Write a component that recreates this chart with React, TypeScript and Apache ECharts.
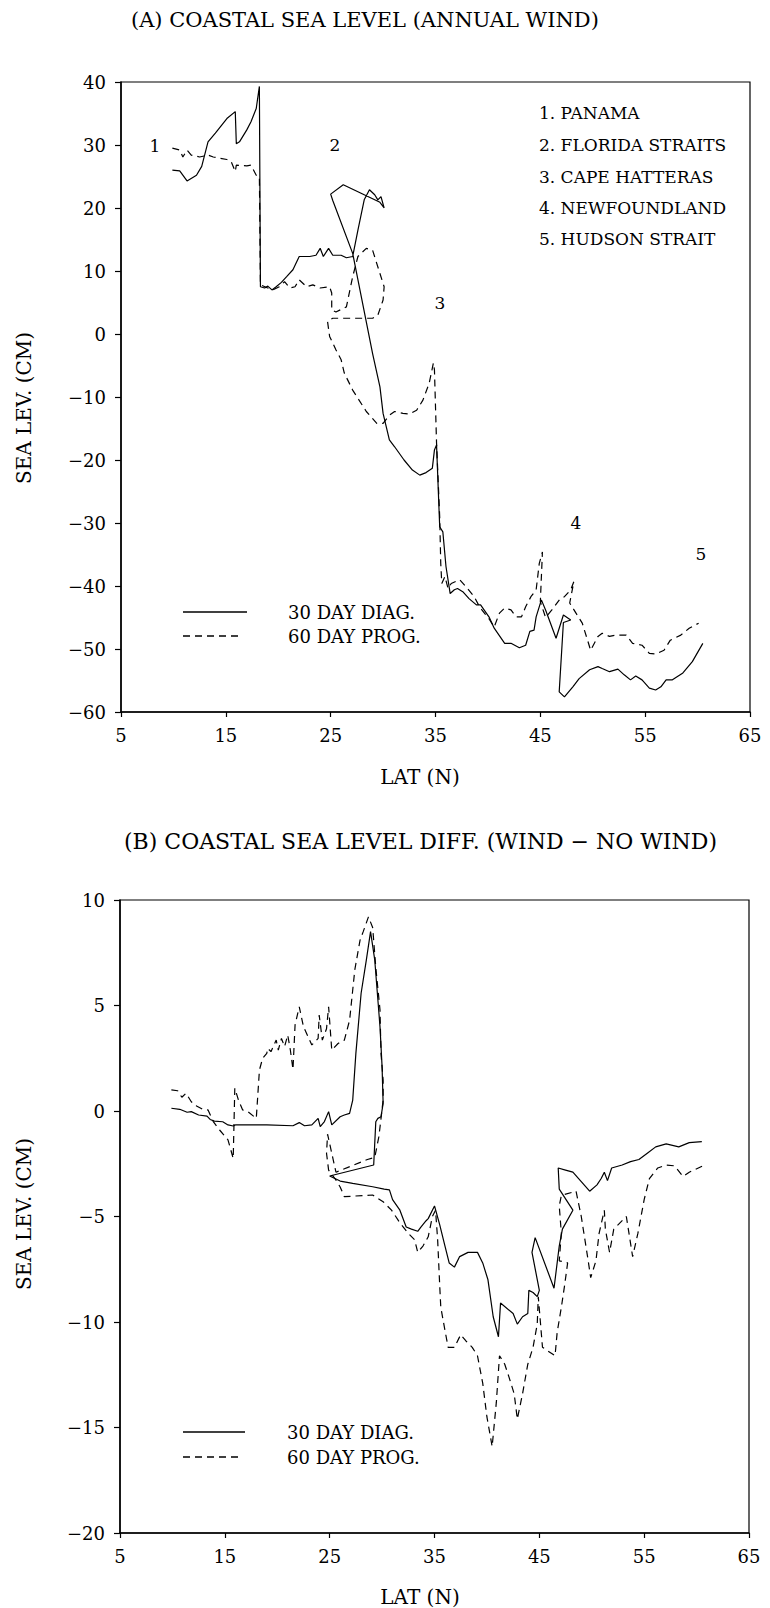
import React, { useEffect, useRef } from "react";
import * as echarts from "echarts";

// ---------- data ----------
const latTicks = [5, 15, 25, 35, 45, 55, 65];

// (A) 30 day diagnostic
const aDiagLat = [9.9, 10.6, 11.3, 12.2, 12.7, 13.3, 14.0, 15.1, 15.9, 16.0, 16.3, 17.0, 17.4, 17.9, 18.2, 18.3, 18.7, 19.0, 19.4, 19.8, 20.3, 20.8, 21.4, 22.0, 23.0, 23.6, 24.0, 24.3, 24.8, 25.2, 26.0, 26.5, 27.1, 27.6, 28.2, 28.7, 29.2, 29.5, 29.8, 30.1, 29.7, 26.2, 25.0, 25.2, 27.1, 29.0, 29.7, 30.0, 30.6, 31.1, 32.0, 32.8, 33.5, 34.1, 34.7, 34.9, 35.1, 35.4, 35.7, 36.0, 36.4, 36.8, 37.1, 37.6, 38.2, 38.9, 39.3, 40.1, 40.6, 41.6, 42.2, 43.0, 43.6, 44.0, 44.4, 44.6, 45.1, 45.5, 46.5, 47.2, 47.9, 47.2, 46.8, 47.3, 48.1, 48.7, 49.7, 50.5, 50.9, 51.6, 52.4, 53.0, 53.6, 54.1, 54.7, 55.4, 56.0, 56.5, 57.0, 57.6, 58.6, 59.5, 60.5];
const aDiagLev = [26.0, 25.9, 24.3, 25.2, 26.6, 30.5, 31.9, 34.2, 35.3, 30.2, 30.5, 32.4, 33.7, 35.8, 39.3, 7.5, 7.3, 7.6, 7.0, 7.5, 8.2, 9.1, 10.2, 12.3, 12.3, 12.5, 13.6, 12.3, 13.6, 12.5, 12.5, 12.1, 12.3, 16.5, 21.3, 22.9, 22.1, 21.3, 21.8, 20.0, 20.9, 23.7, 22.2, 21.2, 12.8, -3.1, -8.4, -12.6, -16.8, -17.9, -20.0, -21.6, -22.4, -22.0, -21.3, -18.4, -17.6, -30.6, -31.4, -36.9, -41.2, -40.6, -40.4, -40.9, -42.0, -43.0, -43.0, -44.9, -46.7, -49.1, -49.1, -49.8, -49.4, -47.2, -47.0, -44.9, -42.2, -43.8, -48.3, -44.6, -45.4, -45.8, -56.8, -57.6, -56.0, -54.7, -53.3, -52.8, -53.1, -53.6, -53.2, -54.1, -54.9, -54.3, -54.9, -56.2, -56.5, -56.0, -54.9, -54.9, -53.8, -52.0, -49.1];

// (A) 60 day prognostic
const aProgLat = [9.9, 10.6, 10.9, 11.3, 11.7, 12.5, 13.3, 13.8, 14.4, 15.1, 15.5, 15.9, 16.0, 17.0, 17.4, 17.9, 18.2, 18.3, 19.0, 19.5, 20.1, 20.6, 21.1, 21.6, 22.0, 22.7, 23.3, 24.0, 24.9, 25.1, 25.1, 25.5, 26.5, 27.1, 27.6, 28.4, 29.0, 29.7, 30.1, 30.0, 29.5, 29.0, 25.2, 24.7, 24.9, 25.5, 26.0, 26.3, 27.1, 28.4, 29.4, 30.0, 30.6, 31.1, 31.9, 32.5, 33.2, 33.8, 34.4, 34.8, 34.9, 35.1, 35.4, 35.5, 35.6, 35.9, 36.2, 36.5, 37.3, 37.9, 38.7, 39.2, 40.1, 40.6, 41.1, 41.6, 42.2, 42.7, 43.2, 43.6, 44.1, 44.6, 44.9, 45.2, 45.0, 45.5, 46.1, 46.9, 47.3, 47.9, 48.2, 47.8, 48.4, 49.0, 49.8, 50.5, 50.9, 51.6, 52.2, 53.2, 53.8, 54.7, 55.4, 56.0, 56.8, 57.4, 58.4, 59.2, 60.1];
const aProgLev = [29.5, 29.2, 28.1, 29.2, 28.4, 28.1, 28.4, 28.1, 27.9, 27.7, 27.4, 25.8, 26.8, 26.7, 26.8, 25.2, 25.0, 7.8, 7.3, 7.0, 7.5, 8.3, 7.3, 7.5, 8.6, 7.5, 7.8, 7.3, 7.5, 6.5, 3.8, 3.5, 4.3, 9.1, 12.3, 13.6, 13.3, 9.6, 7.5, 5.4, 3.0, 2.5, 2.5, 2.0, -0.4, -2.5, -4.1, -6.2, -8.9, -12.3, -14.2, -14.2, -12.9, -12.3, -12.6, -12.7, -12.1, -10.5, -7.8, -4.6, -5.7, -17.3, -29.0, -36.4, -39.6, -38.5, -40.4, -39.6, -39.0, -40.1, -41.7, -43.3, -45.2, -46.5, -44.3, -43.5, -43.8, -44.9, -44.9, -43.3, -41.7, -40.6, -36.4, -34.6, -42.5, -45.0, -43.8, -42.0, -41.7, -40.6, -39.3, -42.7, -44.3, -45.9, -50.2, -48.0, -47.5, -48.0, -47.8, -47.8, -49.1, -49.4, -50.7, -50.8, -50.2, -48.6, -47.8, -46.7, -45.9];

// (B) 30 day diagnostic, difference wind - no wind
const bDiagLat = [9.9, 10.7, 11.4, 11.8, 12.5, 13.3, 13.6, 14.0, 14.8, 15.3, 15.8, 16.0, 19.0, 21.5, 22.1, 22.6, 23.3, 23.9, 24.1, 24.5, 24.9, 25.2, 26.0, 26.4, 26.9, 27.2, 27.5, 28.0, 28.5, 28.9, 29.3, 29.8, 30.0, 30.1, 29.9, 29.6, 29.4, 29.2, 25.0, 26.0, 27.2, 29.1, 30.2, 30.7, 31.0, 31.7, 32.3, 32.8, 33.4, 33.7, 34.2, 34.4, 35.0, 35.5, 36.0, 36.4, 36.9, 37.4, 38.2, 39.1, 39.6, 40.1, 40.6, 41.1, 41.3, 42.5, 42.9, 43.4, 43.9, 44.0, 44.4, 44.8, 45.0, 44.3, 44.6, 46.4, 46.9, 47.2, 48.2, 46.9, 46.8, 47.5, 48.2, 49.0, 49.8, 50.5, 50.9, 51.2, 51.5, 51.9, 52.9, 53.7, 54.5, 55.3, 56.1, 57.1, 58.3, 59.3, 60.5];
const bDiagDif = [0.13, 0.08, -0.06, -0.03, -0.19, -0.24, -0.4, -0.48, -0.51, -0.66, -0.71, -0.66, -0.66, -0.7, -0.55, -0.7, -0.66, -0.35, -0.74, -0.5, -0.03, -0.66, -0.27, -0.19, -0.11, 0.52, 2.73, 5.58, 7.16, 8.5, 7.16, 4.0, 2.1, 0.36, -0.27, -0.35, -0.51, -2.56, -3.08, -3.32, -3.43, -3.59, -3.7, -3.74, -4.2, -4.7, -5.5, -5.6, -5.7, -5.5, -5.2, -5.1, -4.5, -5.4, -6.4, -7.2, -7.4, -6.9, -6.7, -6.7, -7.2, -8.0, -9.75, -10.7, -9.1, -9.6, -10.1, -9.75, -9.6, -8.5, -8.6, -8.8, -8.5, -6.7, -6.0, -8.4, -6.4, -5.6, -4.7, -3.7, -2.7, -2.8, -2.9, -3.35, -3.8, -3.5, -3.2, -2.9, -3.3, -2.7, -2.56, -2.4, -2.3, -2.0, -1.7, -1.56, -1.7, -1.5, -1.45];

// (B) 60 day prognostic
const bProgLat = [9.9, 10.5, 10.9, 11.3, 11.8, 12.3, 12.9, 13.4, 13.9, 14.5, 15.3, 15.8, 15.95, 16.3, 16.7, 17.2, 18.0, 18.3, 18.6, 19.0, 19.1, 19.4, 19.9, 20.1, 20.4, 20.7, 21.0, 21.25, 21.5, 21.7, 22.1, 22.5, 23.3, 23.9, 24.0, 24.3, 24.7, 24.9, 25.2, 25.8, 26.4, 26.9, 27.4, 27.9, 28.2, 28.7, 29.1, 29.4, 29.8, 29.9, 30.1, 30.1, 29.7, 29.3, 28.6, 25.6, 24.8, 24.7, 24.9, 25.5, 26.0, 26.4, 29.1, 30.1, 30.9, 31.7, 32.5, 33.1, 33.4, 33.9, 34.4, 34.8, 35.1, 35.3, 35.5, 35.6, 36.0, 36.3, 36.9, 37.5, 38.0, 38.6, 39.1, 39.6, 40.0, 40.5, 40.9, 41.2, 41.7, 42.1, 42.6, 42.9, 43.4, 43.9, 44.4, 44.8, 44.9, 45.3, 46.5, 46.7, 47.1, 47.4, 47.7, 46.9, 47.1, 46.9, 47.1, 48.5, 49.0, 49.6, 49.9, 50.4, 50.7, 51.2, 51.3, 51.7, 52.1, 53.3, 53.9, 54.4, 55.0, 55.5, 56.3, 57.1, 57.9, 58.7, 59.3, 60.6];
const bProgDif = [1.0, 0.96, 0.65, 0.84, 0.44, 0.24, 0.08, 0.05, -0.5, -0.9, -1.37, -2.25, 1.08, 0.52, 0.05, -0.03, -0.35, 1.94, 2.49, 2.73, 2.97, 2.81, 3.36, 2.89, 3.44, 3.05, 3.6, 2.89, 1.97, 4.08, 4.94, 4.0, 3.13, 3.44, 4.55, 3.36, 3.9, 4.94, 2.89, 3.2, 3.36, 4.3, 6.7, 8.1, 8.5, 9.2, 8.7, 6.8, 4.8, 2.7, 1.47, 0.52, -1.2, -2.2, -2.3, -2.9, -1.1, -2.0, -2.8, -3.2, -3.6, -4.06, -3.98, -4.3, -4.7, -5.3, -5.8, -6.1, -6.7, -6.4, -5.96, -5.0, -4.7, -6.1, -8.3, -9.3, -10.4, -11.2, -11.2, -10.6, -10.9, -11.2, -11.6, -12.9, -14.5, -15.9, -13.8, -11.6, -12.0, -12.6, -13.4, -14.6, -13.4, -12.0, -11.2, -10.1, -8.8, -11.2, -11.6, -10.5, -9.3, -8.3, -7.2, -7.1, -5.8, -4.5, -4.0, -3.8, -5.0, -6.9, -7.9, -7.1, -5.8, -4.7, -5.6, -6.7, -5.6, -5.0, -6.9, -5.8, -4.2, -3.2, -2.7, -2.56, -2.6, -3.1, -2.9, -2.6];

const stationNames = ["1. PANAMA", "2. FLORIDA STRAITS", "3. CAPE HATTERAS", "4. NEWFOUNDLAND", "5. HUDSON STRAIT"];
const stationTags = ["1", "2", "3", "4", "5"];
const seriesNames = ["30 DAY DIAG.", "60 DAY PROG."];

const zip = (xs: number[], ys: number[]) => xs.map((x, i) => [x, ys[i]]);

const SERIF = '"DejaVu Serif", serif';
const minus = (v: number) => String(v).replace("-", "\u2212");

export default function App() {
  const ref = useRef<HTMLDivElement>(null);

  useEffect(() => {
    document.body.style.margin = "0";
    const chart = echarts.init(ref.current!, null, { renderer: "svg" });

    const xAxisCommon = {
      type: "value",
      min: latTicks[0],
      max: latTicks[latTicks.length - 1],
      interval: 10,
      axisLine: { show: true, onZero: false, lineStyle: { color: "#000", width: 1.5 } },
      axisTick: { show: true, inside: false, length: 5, lineStyle: { color: "#000", width: 1.2 } },
      axisLabel: { color: "#000", fontFamily: SERIF, fontSize: 18, margin: 14, formatter: (v: number) => minus(v) },
      splitLine: { show: false },
    };
    const yAxisCommon = {
      type: "value",
      axisLine: { show: true, onZero: false, lineStyle: { color: "#000", width: 1.5 } },
      axisTick: { show: true, inside: false, length: 6, lineStyle: { color: "#000", width: 1.2 } },
      axisLabel: { color: "#000", fontFamily: SERIF, fontSize: 18, margin: 15, formatter: (v: number) => minus(v) },
      splitLine: { show: false },
    };

    const lineSeries = (name: string, xi: number, data: number[][], dashed: boolean) => ({
      name,
      type: "line",
      xAxisIndex: xi,
      yAxisIndex: xi,
      data,
      showSymbol: false,
      symbol: "none",
      clip: true,
      lineStyle: { color: "#000", width: 1.2, type: dashed ? [7, 5] : "solid" },
    });

    const txt = (text: string, x: number, y: number, size: number, align = "left", rotation = 0) => ({
      type: "text",
      x,
      y,
      rotation,
      style: {
        text,
        fill: "#000",
        font: `${size}px ${SERIF}`,
        textAlign: align,
        textVerticalAlign: "middle",
        align,
        verticalAlign: "middle",
      },
    });
    const seg = (x1: number, x2: number, y: number, dashed: boolean) => ({
      type: "line",
      shape: { x1, y1: y, x2, y2: y },
      style: { stroke: "#000", lineWidth: 1.3, lineDash: dashed ? [7, 5] : null },
    });

    const tagPos = [
      [155, 146],
      [335, 145],
      [440, 303],
      [576, 523],
      [701, 554],
    ];
    const listY = [113, 145, 177, 208, 239];

    const graphics: any[] = [
      txt("(A) COASTAL SEA LEVEL (ANNUAL WIND)", 131, 20, 21),
      txt("(B) COASTAL SEA LEVEL DIFF. (WIND \u2212 NO WIND)", 124, 841, 22),
      txt("LAT (N)", 420, 777, 20, "center"),
      txt("LAT (N)", 420, 1597, 20, "center"),
      txt("SEA LEV. (CM)", 24, 408, 20, "center", Math.PI / 2),
      txt("SEA LEV. (CM)", 24, 1214, 20, "center", Math.PI / 2),
      ...stationNames.map((s, i) => txt(s, 539, listY[i], 17)),
      ...stationTags.map((s, i) => txt(s, tagPos[i][0], tagPos[i][1], 17, "center")),
      seg(183, 247, 612, false),
      seg(183, 242, 636, true),
      txt(seriesNames[0], 288, 612, 18),
      txt(seriesNames[1], 288, 636, 18),
      seg(183, 245, 1432, false),
      seg(183, 242, 1457, true),
      txt(seriesNames[0], 287, 1432, 18),
      txt(seriesNames[1], 287, 1457, 18),
    ];

    chart.setOption({
      animation: false,
      backgroundColor: "#fff",
      grid: [
        { left: 121, top: 82, width: 629, height: 630, show: true, borderColor: "#000", borderWidth: 1.2, backgroundColor: "transparent" },
        { left: 120, top: 900, width: 629, height: 633, show: true, borderColor: "#000", borderWidth: 1.2, backgroundColor: "transparent" },
      ],
      xAxis: [
        { ...xAxisCommon, gridIndex: 0 },
        { ...xAxisCommon, gridIndex: 1 },
      ],
      yAxis: [
        { ...yAxisCommon, gridIndex: 0, min: -60, max: 40, interval: 10 },
        { ...yAxisCommon, gridIndex: 1, min: -20, max: 10, interval: 5 },
      ],
      series: [
        lineSeries(seriesNames[0], 0, zip(aDiagLat, aDiagLev), false),
        lineSeries(seriesNames[1], 0, zip(aProgLat, aProgLev), true),
        lineSeries(seriesNames[0] + " ", 1, zip(bDiagLat, bDiagDif), false),
        lineSeries(seriesNames[1] + " ", 1, zip(bProgLat, bProgDif), true),
      ],
      graphic: graphics,
    });

    return () => chart.dispose();
  }, []);

  return <div ref={ref} style={{ width: 770, height: 1608 }} />;
}
